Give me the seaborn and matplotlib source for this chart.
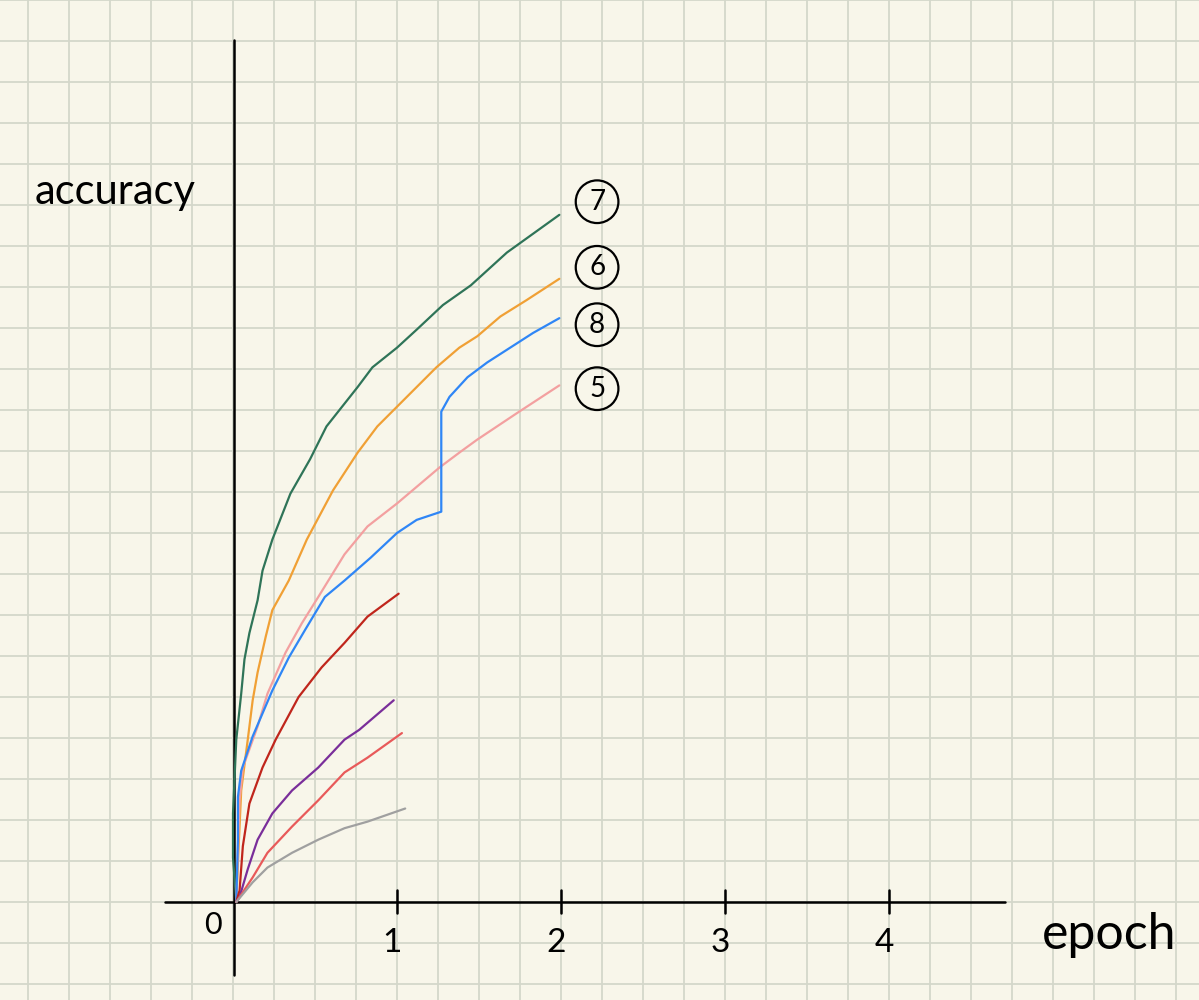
import numpy as np
import pandas as pd
import matplotlib
matplotlib.use("Agg")
import matplotlib.pyplot as plt
import seaborn as sns

# curves (epoch, accuracy in sketch units)
green_x = [0.02, 0.00, 0.00, 0.02, 0.05, 0.07, 0.10, 0.15, 0.18, 0.24, 0.35, 0.47, 0.57, 0.76, 0.85, 1.00, 1.12, 1.28, 1.45, 1.67, 1.99]
green_y = [0.00, 0.27, 0.54, 0.99, 1.27, 1.48, 1.64, 1.84, 2.02, 2.21, 2.49, 2.70, 2.90, 3.14, 3.26, 3.38, 3.49, 3.64, 3.76, 3.96, 4.19]

orange_x = [0.02, 0.03, 0.05, 0.09, 0.12, 0.15, 0.20, 0.24, 0.34, 0.45, 0.61, 0.76, 0.88, 1.00, 1.24, 1.38, 1.49, 1.63, 1.79, 1.99]
orange_y = [0.00, 0.24, 0.68, 0.99, 1.23, 1.40, 1.62, 1.78, 1.96, 2.21, 2.51, 2.74, 2.90, 3.02, 3.26, 3.38, 3.45, 3.57, 3.67, 3.80]

blue_x = [0.02, 0.03, 0.03, 0.05, 0.12, 0.24, 0.34, 0.44, 0.56, 0.68, 0.84, 1.00, 1.12, 1.27, 1.27, 1.32, 1.43, 1.55, 1.69, 1.83, 1.99]
blue_y = [0.00, 0.38, 0.64, 0.80, 1.01, 1.29, 1.49, 1.66, 1.86, 1.96, 2.10, 2.25, 2.33, 2.38, 2.99, 3.08, 3.20, 3.29, 3.38, 3.47, 3.56]

pink_x = [0.02, 0.04, 0.06, 0.15, 0.21, 0.32, 0.42, 0.52, 0.68, 0.82, 1.00, 1.26, 1.38, 1.49, 1.73, 1.99]
pink_y = [0.00, 0.62, 0.82, 1.07, 1.27, 1.52, 1.70, 1.86, 2.12, 2.29, 2.43, 2.65, 2.74, 2.82, 2.98, 3.15]

red_x = [0.02, 0.04, 0.06, 0.10, 0.18, 0.26, 0.40, 0.54, 0.68, 0.82, 1.01]
red_y = [0.00, 0.07, 0.34, 0.60, 0.82, 0.99, 1.25, 1.43, 1.58, 1.74, 1.88]

purple_x = [0.02, 0.04, 0.09, 0.15, 0.24, 0.36, 0.52, 0.68, 0.77, 0.98]
purple_y = [0.00, 0.03, 0.20, 0.38, 0.54, 0.68, 0.82, 0.99, 1.05, 1.23]

coral_x = [0.02, 0.04, 0.12, 0.21, 0.36, 0.52, 0.68, 0.82, 1.03]
coral_y = [0.00, 0.03, 0.15, 0.30, 0.46, 0.62, 0.79, 0.88, 1.03]

gray_x = [0.02, 0.12, 0.21, 0.36, 0.52, 0.68, 0.82, 1.05]
gray_y = [0.00, 0.12, 0.21, 0.30, 0.38, 0.45, 0.49, 0.57]

epoch_ticks = [1, 2, 3, 4]
labels = ["7", "6", "8", "5"]
label_y = [4.27, 3.87, 3.52, 3.13]

curves = {
    "green": (green_x, green_y, "#2f7458"),
    "orange": (orange_x, orange_y, "#f0a035"),
    "pink": (pink_x, pink_y, "#f3a0a0"),
    "blue": (blue_x, blue_y, "#2f86f6"),
    "red": (red_x, red_y, "#c0261c"),
    "purple": (purple_x, purple_y, "#7a2e9a"),
    "coral": (coral_x, coral_y, "#e85a5a"),
    "gray": (gray_x, gray_y, "#a0a0a0"),
}

rows = []
for name, (xs, ys, c) in curves.items():
    for i, (a, b) in enumerate(zip(xs, ys)):
        rows.append({"run": name, "step": i, "epoch": a, "accuracy": b})
df = pd.DataFrame(rows)
palette = {k: v[2] for k, v in curves.items()}

sns.set_theme(style="white")
plt.rcParams["font.family"] = ["Lato", "DejaVu Sans"]

fig = plt.figure(figsize=(11.99, 10), dpi=100)
ax = fig.add_axes([0, 0, 1, 1])
fig.patch.set_facecolor("#f8f6ea")
ax.set_facecolor("#f8f6ea")

sns.lineplot(data=df, x="epoch", y="accuracy", hue="run", palette=palette,
             estimator=None, sort=False, units="run", lw=1.6, legend=False,
             ax=ax, zorder=4)
for ln in ax.lines:
    ln.set_solid_joinstyle("round")
    ln.set_solid_capstyle("round")
ax.set_xlabel("")
ax.set_ylabel("")

# grid paper (ticks first, then limits so the view is not stretched)
ax.set_xticks(np.arange(-1.5, 6.0, 0.25))
ax.set_yticks(np.arange(-0.75, 5.75, 0.25))
px = 164.0
ax.set_xlim(-233 / px, (1199 - 233) / px)
ax.set_ylim(-(1000 - 902) / px, 902 / px)
ax.tick_params(length=0, labelbottom=False, labelleft=False)
ax.grid(True, color="#d4d7ca", lw=1.3)
ax.set_axisbelow(True)
for s in ax.spines.values():
    s.set_visible(False)

# hand drawn axes
ax.plot([-0.415, 4.707], [0, 0], color="black", lw=1.8, zorder=3)
ax.plot([0.005, 0.005], [-0.445, 5.256], color="black", lw=1.8, zorder=3)
for t in epoch_ticks:
    ax.plot([t, t], [-0.07, 0.075], color="black", lw=1.8, zorder=3)
    ax.text(t - 0.03, -0.25, str(t), fontsize=24, ha="center", va="center",
            color="black", zorder=3)
ax.text(-0.12, -0.14, "0", fontsize=22, ha="center", va="center", color="black")

for lab, y in zip(labels, label_y):
    ax.text(2.22, y, lab, fontsize=20, ha="center", va="center", color="black",
            bbox=dict(boxstyle="circle,pad=0.3", fc="none", ec="black", lw=1.6))

ax.text(-0.72, 4.33, "accuracy", fontsize=30, ha="center", va="center", color="black")
ax.text(5.34, -0.2, "epoch", fontsize=36, ha="center", va="center", color="black")

fig.savefig("out.png", dpi=100, facecolor=fig.get_facecolor())
